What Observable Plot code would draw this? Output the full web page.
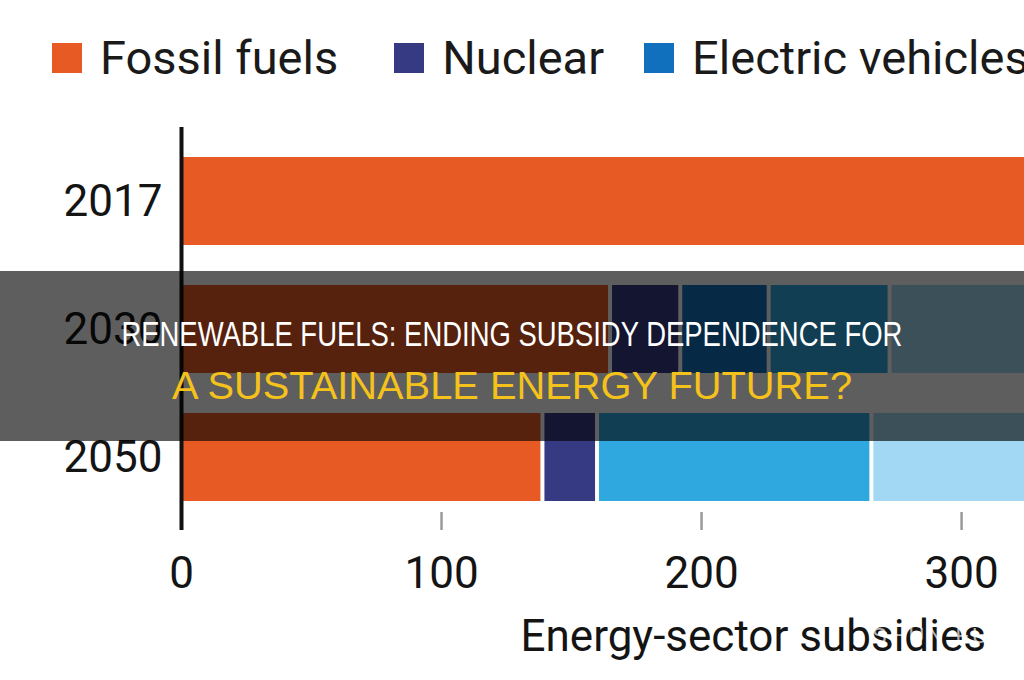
<!DOCTYPE html>
<html>
<head>
<meta charset="utf-8">
<script src="https://cdn.jsdelivr.net/npm/d3@7"></script>
<script src="https://cdn.jsdelivr.net/npm/@observablehq/plot@0.6"></script>
<style>
  html, body { margin: 0; padding: 0; background: #fff; }
  body { width: 1024px; height: 680px; overflow: hidden; position: relative; font-family: Roboto, sans-serif; color: #1a1a1a; }
  #legend { height: 115px; display: flex; align-items: center; white-space: nowrap; padding-left: 52px; box-sizing: border-box; font-size: 47px; overflow: hidden; }
  #legend .item { display: flex; align-items: center; margin-right: 56px; flex: none; }
  #legend .item:nth-child(2) { margin-right: 40px; }
  #legend .sw { width: 30px; height: 30px; margin-right: 18px; flex: none; }
  #banner { position: absolute; left: 0; top: 271px; width: 1024px; height: 170px; background: rgba(0,0,0,0.63); text-align: center; font-family: "Liberation Sans", Arial, sans-serif; }
  #banner .line { position: absolute; left: 0; right: 0; text-align: center; white-space: nowrap; }
  #banner .line span { display: inline-block; transform-origin: 50% 50%; }
  #banner .l1 { top: 45px; color: #fff; font-size: 35px; line-height: 35px; }
  #banner .l2 { top: 95px; color: #f5c21c; font-size: 39px; line-height: 39px; }
  #wm { position: absolute; left: 872px; top: 623px; color: rgba(255,255,255,0.7); font-size: 22px; font-family: "Liberation Sans", sans-serif; letter-spacing: 3px; }
</style>
</head>
<body>
<div id="legend"></div>
<div id="chart"></div>
<div id="banner"><div class="line l1"><span data-w="781">RENEWABLE FUELS: ENDING SUBSIDY DEPENDENCE FOR</span></div><div class="line l2"><span data-w="680">A SUSTAINABLE ENERGY FUTURE?</span></div></div>
<div id="wm">SHUN FUEL</div>
<script>
const years = ["2017", "2030", "2050"];
const categories = ["Fossil fuels", "Nuclear", "Electric vehicles", "Renewable power", "Biofuels"];
const colors = ["#e85a24", "#363a82", "#1170bd", "#2ea8de", "#a2d8f3"];
const fossil = [447, 165, 139];
const nuclear = [21, 27, 21];
const electricVehicles = [0, 34, 0];
const renewablePower = [128, 46.5, 105.5];
const biofuels = [38, 60, 70];
const xTicks = [0, 100, 200, 300];
const xTickMarks = [100, 200, 300];
const xLabel = "Energy-sector subsidies";

const series = [fossil, nuclear, electricVehicles, renewablePower, biofuels];
const data = [];
years.forEach((y, i) => categories.forEach((c, j) => data.push({year: y, category: c, value: series[j][i]})));

// legend
const legend = document.getElementById("legend");
categories.forEach((c, j) => {
  const it = document.createElement("div");
  it.className = "item";
  it.innerHTML = `<span class="sw" style="background:${colors[j]}"></span><span>${c}</span>`;
  legend.appendChild(it);
});

const H = 565, mTop = 12, mBottom = 150;
const chart = Plot.plot({
  width: 1024,
  height: H,
  marginLeft: 181,
  marginRight: 0,
  marginTop: mTop,
  marginBottom: mBottom,
  style: {fontFamily: "Roboto, sans-serif", fontSize: "44px", color: "#141414", background: "transparent", overflow: "hidden"},
  x: {domain: [0, 324.2]},
  y: {domain: years, paddingInner: 0.3125, paddingOuter: 0.23},
  color: {domain: categories, range: colors},
  marks: [
    Plot.barX(data, Plot.stackX({y: "year", x: "value", fill: "category", order: categories, insetLeft: 2, insetRight: 2, clip: true})),
    Plot.tickX(xTickMarks, {x: d => d, stroke: "#9a9a9a", strokeWidth: 2.5, insetTop: H - mTop - mBottom - 18}),
    Plot.ruleX([0], {stroke: "#111", strokeWidth: 4}),
    Plot.axisY({tickSize: 0, tickPadding: 19, fontSize: 44, label: null}),
    Plot.axisX({ticks: xTicks, tickSize: 0, tickPadding: 26, fontSize: 44, label: null}),
    Plot.text([xLabel], {frameAnchor: "bottom-left", dx: 339, dy: 120, textAnchor: "start", fontSize: 44, fill: "#141414"})
  ]
});
document.getElementById("chart").appendChild(chart);

// fit banner lines to their widths in the picture
document.querySelectorAll("#banner .line span").forEach(s => {
  const w = s.getBoundingClientRect().width;
  const target = +s.dataset.w;
  s.style.transform = `scaleX(${target / w})`;
});
</script>
</body>
</html>
